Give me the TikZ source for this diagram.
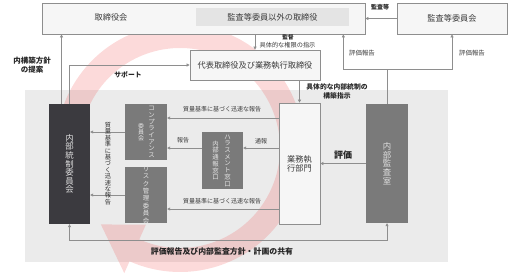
\documentclass[tikz,border=0pt]{standalone}
\usepackage{fontspec}
\setmainfont{Noto Sans CJK JP}
\usetikzlibrary{arrows.meta,calc}
\definecolor{linec}{HTML}{8E8E8E}
\definecolor{boxfill}{HTML}{F6F6F6}
\definecolor{innerfill}{HTML}{E4E4E4}
\definecolor{backc}{HTML}{EBEBEB}
\definecolor{darkbox}{HTML}{3B3A3F}
\definecolor{midbox}{HTML}{7A7A7A}
\definecolor{txtc}{HTML}{3A3A3A}
\definecolor{ringc}{HTML}{F04848}

\begin{document}
\begin{tikzpicture}[x=1pt,y=-1pt]
\tikzset{wbox/.style={draw=linec,fill=boxfill,line width=0.7pt,inner sep=0pt,text=txtc,font=\fontsize{8.2}{9}\selectfont},
         dbox/.style={fill=darkbox,inner sep=0pt},
         gbox/.style={fill=midbox,inner sep=0pt},
         tate/.style={align=center,inner sep=0pt,text=white!88!black,font=\fontsize{8.4}{8.6}\selectfont},
         tatesm/.style={align=center,inner sep=0pt,text=white!90!black,font=\fontsize{6.4}{6.7}\selectfont},
         lab/.style={inner sep=0pt,text=txtc,font=\fontsize{6}{7}\selectfont},
         labb/.style={inner sep=0pt,text=black!85,font=\bfseries\fontsize{7.2}{9}\selectfont},
         line/.style={draw=linec,line width=0.6pt},
         arr/.style={line,-{Triangle[length=3pt,width=3pt]}},
         arrs/.style={line,{Triangle[length=3pt,width=3pt]}-{Triangle[length=3pt,width=3pt]}},
         ring/.style={fill=ringc,fill opacity=0.2}}
\useasboundingbox (0,0) rectangle (508,274);
% gray zone
\node[fill=backc,minimum width=423pt,minimum height=172pt,inner sep=0pt] (zone) at (236.5,176) {};
% circular arrow
\coordinate (rc) at (180,148);
\fill[ring] ($(rc)+(200:124pt)$) arc[start angle=200,end angle=-114,radius=124pt]
  -- ($(rc)+(-114:137pt)$) -- ($(rc)+(-136:110pt)$) -- ($(rc)+(-114:84pt)$)
  -- ($(rc)+(-114:100pt)$) arc[start angle=-114,end angle=200,radius=100pt] -- cycle;
% top row
\node[wbox,minimum width=323pt,minimum height=31pt] (board) at (203.5,18.5) {};
\node[lab,font=\fontsize{8.2}{9}\selectfont] (boardt) at (111,17) {取締役会};
\node[fill=innerfill,inner sep=0pt,minimum width=153pt,minimum height=18pt,text=txtc,font=\fontsize{8.2}{9}\selectfont] (other) at (272.5,17) {監査等委員以外の取締役};
\node[wbox,minimum width=110pt,minimum height=31pt] (kansa) at (452,18.5) {監査等委員会};
\node[wbox,minimum width=130pt,minimum height=30pt] (daihyo) at (255,65) {代表取締役及び業務執行取締役};
% boxes in the zone
\node[dbox,minimum width=41pt,minimum height=120pt] (naibu) at (69.5,164) {};
\node[tate] (naibut) at (naibu.center) {内\\部\\統\\制\\委\\員\\会};
\node[gbox,minimum width=42pt,minimum height=56pt] (comp) at (146,132) {};
\node[tatesm] (compa) at ([xshift=5.5pt]comp.center) {コ\\ン\\プ\\ラ\\イ\\ア\\ン\\ス};
\node[tatesm,font=\fontsize{6}{6.2}\selectfont] (compb) at ([xshift=-5pt]comp.center) {委\\員\\会};
\node[gbox,minimum width=42pt,minimum height=56pt] (risk) at (146,195) {};
\node[tatesm,font=\fontsize{6.4}{7.4}\selectfont] (riskt) at (risk.center) {リ\\ス\\ク\\管\\理\\委\\員\\会};
\node[gbox,minimum width=41pt,minimum height=57pt] (hara) at (222.5,160.5) {};
\node[tatesm] (haraa) at ([xshift=5pt]hara.center) {ハ\\ラ\\ス\\メ\\ン\\ト\\窓\\口};
\node[tatesm] (harab) at ([xshift=-7pt]hara.center) {内\\部\\通\\報\\窓\\口};
\node[wbox,minimum width=41pt,minimum height=121pt,align=center] (gyomu) at (299.5,163.5) {業務執\\行部門};
\node[gbox,minimum width=42pt,minimum height=119pt] (audit) at (387,163.5) {};
\node[tate] (auditt) at (audit.center) {内\\部\\監\\査\\室};
% connectors
\draw[arr] (kansa.west) -- (kansa.west -| board.east);
\coordinate (hyoka) at ($(audit.north)+(0,-35)$);
\draw[line] (audit.north) -- (hyoka);
\draw[arr] (hyoka) -| (kansa.south);
\draw[arr] (hyoka) -| ($(board.south east)+(-22,0)$);
\draw[arr] (board.south -| daihyo.north) -- (daihyo.north);
\draw[arr] (daihyo.south -| gyomu.north) -- (gyomu.north);
\draw[arr] (naibu.north) |- (daihyo.west);
\draw[arr] ([xshift=-8pt]naibu.north) -- ([xshift=-8pt]naibu.north |- board.south);
\coordinate (c1) at ([yshift=14pt]comp.east);
\coordinate (c2) at ([yshift=-16pt]comp.east);
\coordinate (c3) at ([yshift=-14pt]risk.east);
\draw[arr] (c1 -| gyomu.west) -- (c1);
\draw[arr] (c2 -| gyomu.west) -- (c2 -| hara.east);
\draw[arr] (c2 -| hara.west) -- (c2);
\draw[arr] (c3 -| gyomu.west) -- (c3);
\draw[arr] (comp.west) -- (comp.west -| naibu.east);
\draw[arr] (risk.west) -- (risk.west -| naibu.east);
\draw[arr] (audit.west) -- (gyomu.east);
\draw[arrs] (naibu.south) -- ++(0,16) -| (audit.south);
% labels
\node[labb,font=\bfseries\fontsize{6}{7}\selectfont] (lkan) at (380,7) {監査等};
\node[lab,font=\fontsize{6.4}{7}\selectfont] (lhy1) at (362,53) {評価報告};
\node[lab,font=\fontsize{6.4}{7}\selectfont] (lhy2) at (472,53) {評価報告};
\node[labb,font=\bfseries\fontsize{5.6}{7}\selectfont] (lkt) at (288,37.5) {監督};
\node[lab,font=\fontsize{6.2}{7}\selectfont] (lken) at (287.5,45) {具体的な権限の指示};
\node[labb,font=\bfseries\fontsize{7.5}{9.5}\selectfont,align=center] (lteian) at (32,65) {内構築方針\\の提案};
\node[labb,font=\bfseries\fontsize{6.8}{7}\selectfont] (lsup) at (128,75) {サポート};
\node[labb,font=\bfseries\fontsize{6.8}{9}\selectfont,align=center] (lkochiku) at (337,91.5) {具体的な内部統制の\\構築指示};
\node[lab] (lq1) at (222,109) {質量基準に基づく迅速な報告};
\node[lab] (lq2) at (222,201) {質量基準に基づく迅速な報告};
\node[lab] (ltsu) at (261,141) {通報};
\node[lab] (lhou) at (183,140) {報告};
\node[labb,font=\bfseries\fontsize{9}{10}\selectfont] (lhyoka) at (343,155) {評価};
\node[lab,align=center,text=black!80,font=\fontsize{6.2}{6.4}\selectfont] (lqv) at (108,163.5) {質\\量\\基\\準\\に\\基\\づ\\く\\迅\\速\\な\\報\\告};
\node[labb,font=\bfseries\fontsize{7.9}{9}\selectfont] (lshare) at (222,252) {評価報告及び内部監査方針・計画の共有};
\end{tikzpicture}
\end{document}
